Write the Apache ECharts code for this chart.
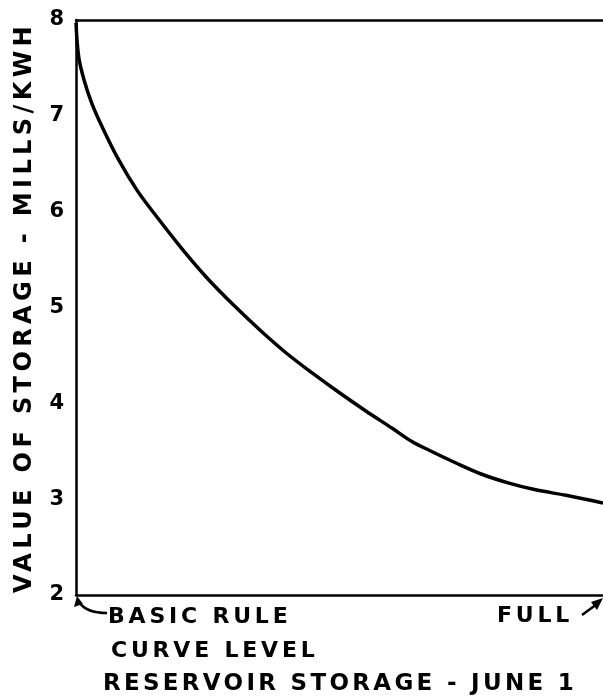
<!DOCTYPE html>
<html>
<head>
<meta charset="utf-8">
<script src="https://cdn.jsdelivr.net/npm/echarts@6/dist/echarts.min.js"></script>
<style>html,body{margin:0;padding:0;background:#fff}#c{width:603px;height:698px}</style>
</head>
<body>
<div id="c"></div>
<script>
// Data
const storagePct = [0, 0.5, 1.5, 3, 5, 8, 11.5, 15, 20, 25, 30, 35, 40, 45, 50, 55, 60, 63.5, 67, 72, 77, 82, 87, 93, 100];
const valueMills = [7.97, 7.62, 7.38, 7.13, 6.88, 6.55, 6.23, 5.97, 5.62, 5.30, 5.02, 4.76, 4.52, 4.31, 4.11, 3.92, 3.74, 3.61, 3.51, 3.38, 3.26, 3.17, 3.10, 3.04, 2.96];
const yTicks = [2, 3, 4, 5, 6, 7, 8];
const yName = 'VALUE OF STORAGE - MILLS/KWH';
const xName = 'RESERVOIR STORAGE - JUNE 1';
const leftNote = ['BASIC RULE', 'CURVE LEVEL'];
const rightNote = 'FULL';

// wide lettering (Leroy style): add letter spacing by font size
const LS = {24: 4.4, 23: 3.3, 22: 3.8};
const _ft = CanvasRenderingContext2D.prototype.fillText;
CanvasRenderingContext2D.prototype.fillText = function () {
  const m = /(\d+)px/.exec(this.font);
  const s = m ? (LS[m[1]] || 0) : 0;
  try { this.letterSpacing = s + 'px'; } catch (e) {}
  return _ft.apply(this, arguments);
};

const FONT = "'DejaVu Sans'";
const chart = echarts.init(document.getElementById('c'), null, {renderer: 'canvas'});
chart.setOption({
  animation: false,
  backgroundColor: '#fff',
  grid: {left: 76, right: 0, top: 20, bottom: 103, containLabel: false, outerBoundsMode: 'none'},
  xAxis: [{
    type: 'value', min: 0, max: 100, position: 'bottom',
    axisLine: {show: true, onZero: false, lineStyle: {color: '#000', width: 2.5}},
    axisTick: {show: false}, axisLabel: {show: false}, splitLine: {show: false}
  }, {
    type: 'value', min: 0, max: 100, position: 'top',
    axisLine: {show: true, onZero: false, lineStyle: {color: '#000', width: 2.5}},
    axisTick: {show: false}, axisLabel: {show: false}, splitLine: {show: false}
  }],
  yAxis: {
    type: 'value', min: 2, max: 8, interval: 1,
    axisLine: {show: true, onZero: false, lineStyle: {color: '#000', width: 2.5}},
    axisTick: {show: false}, splitLine: {show: false},
    axisLabel: {color: '#000', fontSize: 21, fontWeight: 'bold', fontFamily: FONT, margin: 12,
      formatter: v => (yTicks.indexOf(v) >= 0 ? String(v) : '')},
    name: yName, nameLocation: 'middle', nameGap: 39,
    nameTextStyle: {color: '#000', fontSize: 24, fontWeight: 'bold', fontFamily: FONT}
  },
  series: [{
    type: 'line', xAxisIndex: 0,
    data: storagePct.map((x, i) => [x, valueMills[i]]),
    smooth: 0.35, showSymbol: false, symbol: 'none',
    lineStyle: {color: '#000', width: 3.5}, clip: false
  }],
  graphic: [
    {type: 'text', left: 108, top: 606, style: {text: leftNote[0], fill: '#000', font: "bold 22px 'DejaVu Sans'"}},
    {type: 'text', left: 111, top: 640, style: {text: leftNote[1], fill: '#000', font: "bold 22px 'DejaVu Sans'"}},
    {type: 'text', left: 497, top: 605, style: {text: rightNote, fill: '#000', font: "bold 22px 'DejaVu Sans'"}},
    {type: 'text', x: 340, y: 684, style: {text: xName, fill: '#000', font: "bold 23px 'DejaVu Sans'", align: 'center', verticalAlign: 'middle'}},
    {type: 'bezierCurve', shape: {x1: 107, y1: 613, x2: 79, y2: 602, cpx1: 86, cpy1: 613}, style: {stroke: '#000', lineWidth: 2.5, fill: null}},
    {type: 'polygon', shape: {points: [[77, 596], [74, 607], [83, 604]]}, style: {fill: '#000'}},
    {type: 'line', shape: {x1: 582, y1: 615, x2: 597, y2: 604}, style: {stroke: '#000', lineWidth: 2.5}},
    {type: 'polygon', shape: {points: [[603, 598], [591, 602], [597, 610]]}, style: {fill: '#000'}}
  ]
});
</script>
</body>
</html>
